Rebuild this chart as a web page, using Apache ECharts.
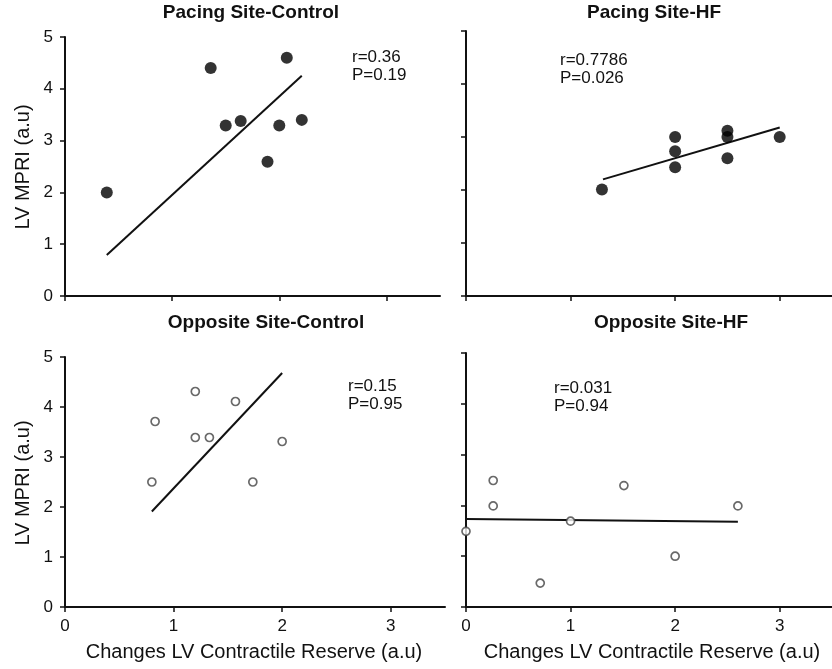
<!DOCTYPE html>
<html>
<head>
<meta charset="utf-8">
<script src="https://cdn.jsdelivr.net/npm/echarts@6/dist/echarts.min.js"></script>
<style>
html,body{margin:0;padding:0;background:#fff;}
#chart{width:832px;height:669px;}
</style>
</head>
<body>
<div id="chart"></div>
<script>
// ---- data ----
const panelTitles = ['Pacing Site-Control', 'Pacing Site-HF', 'Opposite Site-Control', 'Opposite Site-HF'];
const statsText = [['r=0.36', 'P=0.19'], ['r=0.7786', 'P=0.026'], ['r=0.15', 'P=0.95'], ['r=0.031', 'P=0.94']];
const xTicks = [0, 1, 2, 3];
const yTicks = [0, 1, 2, 3, 4, 5];
const yAxisName = 'LV MPRI (a.u)';
const xAxisName = 'Changes LV Contractile Reserve (a.u)';

// Pacing Site-Control
const pcX = [0.39, 1.36, 1.50, 1.64, 1.89, 2.00, 2.07, 2.21];
const pcY = [2.00, 4.40, 3.29, 3.38, 2.59, 3.29, 4.60, 3.40];
const pcFitX = [0.39, 2.21];
const pcFitY = [0.79, 4.25];

// Pacing Site-HF
const phX = [1.30, 2.00, 2.00, 2.00, 2.50, 2.50, 2.50, 3.00];
const phY = [2.01, 3.00, 2.73, 2.43, 3.12, 3.00, 2.60, 3.00];
const phFitX = [1.31, 3.00];
const phFitY = [2.20, 3.18];

// Opposite Site-Control
const ocX = [0.80, 0.83, 1.20, 1.20, 1.33, 1.57, 1.73, 2.00];
const ocY = [2.50, 3.71, 4.31, 3.39, 3.39, 4.11, 2.50, 3.31];
const ocFitX = [0.80, 2.00];
const ocFitY = [1.91, 4.68];

// Opposite Site-HF
const ohX = [0.00, 0.26, 0.26, 0.71, 1.00, 1.51, 2.00, 2.60];
const ohY = [1.49, 2.49, 1.99, 0.47, 1.69, 2.39, 1.00, 1.99];
const ohFitX = [0.00, 2.60];
const ohFitY = [1.73, 1.68];

// ---- build ----
const FONT = '"Liberation Sans", Arial, Helvetica, sans-serif';
const zip = (a, b) => a.map((v, i) => [v, b[i]]);

const grids = [
  {left: 65, top: 37, width: 375, height: 259},
  {left: 466, top: 31, width: 372, height: 265},
  {left: 65, top: 357, width: 380, height: 250},
  {left: 466, top: 353, width: 375, height: 254}
];
const showXLabel = [false, false, true, true];
const showYLabel = [true, false, true, false];

const panels = [
  {x: pcX, y: pcY, fx: pcFitX, fy: pcFitY, filled: true},
  {x: phX, y: phY, fx: phFitX, fy: phFitY, filled: true},
  {x: ocX, y: ocY, fx: ocFitX, fy: ocFitY, filled: false},
  {x: ohX, y: ohY, fx: ohFitX, fy: ohFitY, filled: false}
];

const axisLine = {show: true, onZero: false, lineStyle: {color: '#111', width: 2}};
const axisTick = {show: true, length: 5, lineStyle: {color: '#111', width: 1.5}};

const xAxes = grids.map((g, i) => ({
  type: 'value', gridIndex: i, min: 0, max: 3.5, interval: 1,
  axisLine: axisLine,
  axisTick: Object.assign({customValues: xTicks}, axisTick),
  axisLabel: {show: showXLabel[i], customValues: xTicks, color: '#111', fontSize: 17, fontFamily: FONT, margin: 11},
  splitLine: {show: false}
}));
const yAxes = grids.map((g, i) => ({
  type: 'value', gridIndex: i, min: 0, max: 5, interval: 1,
  axisLine: axisLine,
  axisTick: Object.assign({customValues: yTicks}, axisTick),
  axisLabel: {show: showYLabel[i], customValues: yTicks, color: '#111', fontSize: 17, fontFamily: FONT, margin: 12},
  splitLine: {show: false}
}));

const series = [];
panels.forEach((p, i) => {
  series.push({
    type: 'line', xAxisIndex: i, yAxisIndex: i, data: zip(p.fx, p.fy),
    symbol: 'none', lineStyle: {color: '#111', width: 2}, z: 2, silent: true
  });
  series.push({
    type: 'scatter', xAxisIndex: i, yAxisIndex: i, data: zip(p.x, p.y),
    symbol: 'circle', symbolSize: p.filled ? 12 : 8, clip: false, z: 3,
    itemStyle: p.filled ? {color: '#000'} : {color: '#fff', borderColor: '#444', borderWidth: 1.7}
  });
});

const titlePos = [[251, 3], [654, 3], [266, 313], [671, 313]];
const statPos = [[352, 48], [560, 51], [348, 377], [554, 379]];
const graphics = [];
panelTitles.forEach((t, i) => {
  graphics.push({type: 'text', x: titlePos[i][0], y: titlePos[i][1],
    style: {text: t, textAlign: 'center', textVerticalAlign: 'top', font: 'bold 19px ' + FONT, fill: '#111'}});
  graphics.push({type: 'text', x: statPos[i][0], y: statPos[i][1],
    style: {text: statsText[i].join('\n'), lineHeight: 18, textAlign: 'left', textVerticalAlign: 'top', font: '17px ' + FONT, fill: '#111'}});
});
// y axis names
[[23, 167], [23, 483]].forEach(p => {
  graphics.push({type: 'text', x: p[0], y: p[1], rotation: Math.PI / 2,
    style: {text: yAxisName, textAlign: 'center', textVerticalAlign: 'middle', font: '20px ' + FONT, fill: '#111'}});
});
// x axis names
[[254, 652], [652, 652]].forEach(p => {
  graphics.push({type: 'text', x: p[0], y: p[1],
    style: {text: xAxisName, textAlign: 'center', textVerticalAlign: 'middle', font: '20px ' + FONT, fill: '#111'}});
});

const chart = echarts.init(document.getElementById('chart'), null, {renderer: 'canvas'});
chart.setOption({
  animation: false,
  backgroundColor: '#fff',
  grid: grids,
  xAxis: xAxes,
  yAxis: yAxes,
  series: series,
  graphic: graphics
});
</script>
</body>
</html>
